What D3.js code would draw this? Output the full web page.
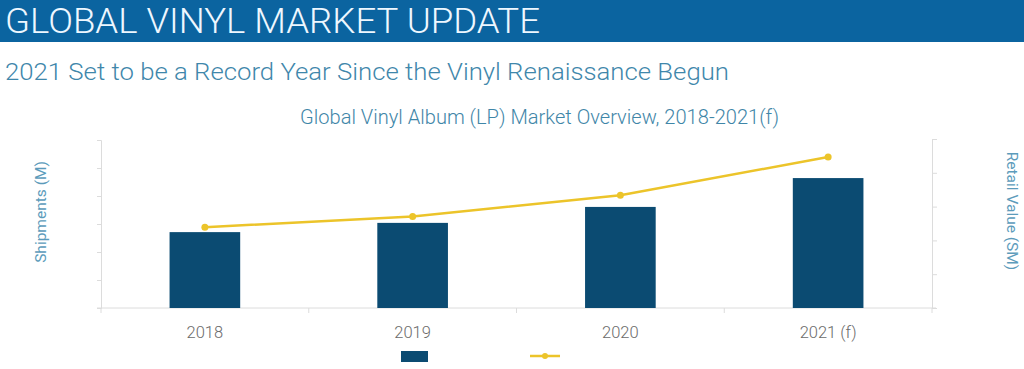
<!DOCTYPE html>
<html><head><meta charset="utf-8">
<script src="https://cdn.jsdelivr.net/npm/d3@7"></script>
<style>body{margin:0;background:#fff;}svg{display:block;}</style>
</head><body>
<svg id="c" width="1024" height="369"></svg>
<script>
const categories = ["2018", "2019", "2020", "2021 (f)"];
const shipments = [27.1, 30.4, 36.1, 46.4];      // M units (left axis)
const retailValue = [717, 812, 1000, 1340];     // $M (right axis)
const leftTicks = [0, 10, 20, 30, 40, 50, 60];
const rightTicks = [0, 300, 600, 900, 1200, 1500];

const svg = d3.select("#c");
const font = "Roboto, 'Open Sans', sans-serif";

// header band
svg.append("rect").attr("x",0).attr("y",0).attr("width",1024).attr("height",42).attr("fill","#0b64a0");
svg.append("text").attr("x",5).attr("y",33).text("GLOBAL VINYL MARKET UPDATE")
  .attr("fill","#eef7ff").attr("font-family",font).attr("font-weight",300).attr("font-size",35)
  .attr("textLength",535).attr("lengthAdjust","spacingAndGlyphs");
svg.append("text").attr("x",5).attr("y",80).text("2021 Set to be a Record Year Since the Vinyl Renaissance Begun")
  .attr("fill","#3f87ab").attr("font-family",font).attr("font-weight",300).attr("font-size",24)
  .attr("textLength",724).attr("lengthAdjust","spacingAndGlyphs");
svg.append("text").attr("x",300).attr("y",124)
  .text("Global Vinyl Album (LP) Market Overview, 2018-2021(f)")
  .attr("fill","#3f86a8").attr("font-family",font).attr("font-weight",300).attr("font-size",19.5)
  .attr("textLength",479).attr("lengthAdjust","spacingAndGlyphs");

const x0 = 101, x1 = 932, yBase = 308, yTopL = 140, yTopR = 139;
const x = d3.scaleBand().domain(categories).range([x0, x1]).paddingInner(0.66).paddingOuter(0.33);
const xb = d3.scaleBand().domain(categories).range([x0, x1]);
const yL = d3.scaleLinear().domain([0, 60]).range([yBase, yTopL]);
const yR = d3.scaleLinear().domain([0, 1500]).range([yBase, yTopR]);

const axisColor = "#dcdcdc";
// left axis
const gl = svg.append("g").attr("transform",`translate(${x0},0)`)
  .call(d3.axisLeft(yL).tickValues(leftTicks).tickSize(4).tickFormat(""));
// right axis
const gr = svg.append("g").attr("transform",`translate(${x1},0)`)
  .call(d3.axisRight(yR).tickValues(rightTicks).tickSize(5).tickFormat(""));
[gl, gr].forEach(g => { g.select(".domain").attr("stroke",axisColor); g.selectAll(".tick line").attr("stroke",axisColor); });

// bottom axis line with band boundary ticks
svg.append("line").attr("x1",x0-4).attr("x2",x1+4).attr("y1",yBase).attr("y2",yBase).attr("stroke",axisColor);
const bounds = categories.map(c => xb(c)).concat([x1]);
svg.selectAll(".bt").data(bounds).enter().append("line")
  .attr("x1",d=>d).attr("x2",d=>d).attr("y1",yBase).attr("y2",yBase+5).attr("stroke",axisColor);

// x labels
svg.selectAll(".xl").data(categories).enter().append("text")
  .attr("x",d=>xb(d)+xb.bandwidth()/2).attr("y",338).attr("text-anchor","middle")
  .text(d=>d).attr("fill","#6b6b6b").attr("font-family",font).attr("font-weight",300).attr("font-size",16.5);

// bars
svg.selectAll(".bar").data(shipments).enter().append("rect")
  .attr("x",(d,i)=>x(categories[i])).attr("width",x.bandwidth())
  .attr("y",d=>yL(d)).attr("height",d=>yBase-yL(d)).attr("fill","#0b4b72");

// line
const lineColor = "#ecc42a";
const line = d3.line().x((d,i)=>xb(categories[i])+xb.bandwidth()/2).y(d=>yR(d));
svg.append("path").datum(retailValue).attr("d",line).attr("fill","none").attr("stroke",lineColor).attr("stroke-width",2.5);
svg.selectAll(".pt").data(retailValue).enter().append("circle")
  .attr("cx",(d,i)=>xb(categories[i])+xb.bandwidth()/2).attr("cy",d=>yR(d)).attr("r",3.5).attr("fill",lineColor);

// axis titles
svg.append("text").attr("transform","translate(46,212) rotate(-90)").attr("text-anchor","middle")
  .text("Shipments (M)").attr("fill","#5c9bbb").attr("font-family",font).attr("font-size",15.5);
svg.append("text").attr("transform","translate(1007,211) rotate(90)").attr("text-anchor","middle")
  .text("Retail Value (SM)").attr("fill","#5c9bbb").attr("font-family",font).attr("font-size",15.5);

// legend
svg.append("rect").attr("x",401).attr("y",351).attr("width",27).attr("height",11).attr("fill","#0b4b72");
svg.append("line").attr("x1",530).attr("x2",560).attr("y1",356).attr("y2",356).attr("stroke",lineColor).attr("stroke-width",2.5);
svg.append("circle").attr("cx",545).attr("cy",356).attr("r",3).attr("fill",lineColor);
</script>
</body></html>
